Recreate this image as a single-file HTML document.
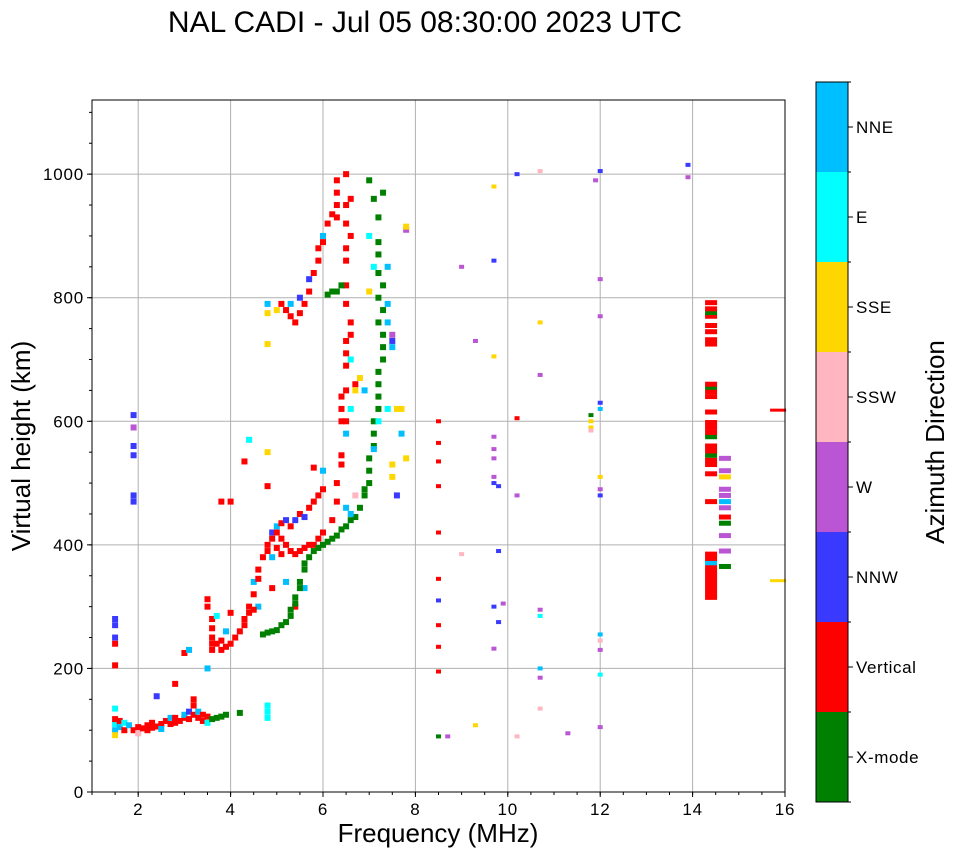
<!DOCTYPE html>
<html><head><meta charset="utf-8"><style>
body{margin:0;background:#fff;}
svg{display:block;font-family:"Liberation Sans","DejaVu Sans",sans-serif;}
</style></head><body>
<svg id="chart" width="958" height="857" viewBox="0 0 958 857" xmlns="http://www.w3.org/2000/svg">
<text x="425" y="32" font-size="30" text-anchor="middle">NAL CADI - Jul 05 08:30:00 2023 UTC</text>
<g id="grid"></g><g id="cells"></g><g id="axes"></g><g id="cbar"></g>
<text x="438" y="842" font-size="26" text-anchor="middle">Frequency (MHz)</text>
<text transform="translate(30,446) rotate(-90)" font-size="26" text-anchor="middle">Virtual height (km)</text>
<text transform="translate(944,442) rotate(-90)" font-size="26" text-anchor="middle">Azimuth Direction</text>
</svg>
<script>
const directions=["X-mode","Vertical","NNW","W","SSW","SSE","E","NNE"];
const dirColors=["#008000","#ff0000","#3a3aff","#ba55d3","#ffb6c1","#ffd700","#00ffff","#00bfff"];
const xTicks=[2,4,6,8,10,12,14,16];
const yTicks=[0,200,400,600,800,1000];
const eLayerCells=[[1.5,100,7],[1.5,110,6],[1.5,118,1],[1.5,135,6],[1.5,92,5],[1.6,105,7],[1.6,115,1],[1.7,100,1],[1.7,112,6],[1.8,108,7],[1.9,100,1],[2.0,105,1],[2.0,95,4],[2.1,103,1],[2.2,108,1],[2.2,100,1],[2.3,112,1],[2.3,104,1],[2.4,106,1],[2.5,110,1],[2.5,102,7],[2.6,115,1],[2.7,110,1],[2.7,120,7],[2.8,112,1],[2.8,120,1],[2.9,115,1],[3.0,120,1],[3.0,125,7],[3.1,118,1],[3.1,130,2],[3.2,125,1],[3.2,140,1],[3.2,150,1],[3.3,130,7],[3.3,120,1],[3.4,115,1],[3.4,125,1],[3.5,122,1],[3.5,112,6],[3.6,118,0],[3.7,120,0],[3.8,122,0],[3.9,125,0],[4.2,128,0],[2.8,175,1],[3.0,225,1],[3.1,230,7],[2.4,155,2],[3.5,200,7],[1.5,205,1],[1.5,240,1],[1.5,250,2],[1.5,270,2],[1.5,280,2],[1.9,470,2],[1.9,480,2],[1.9,545,2],[1.9,560,2],[1.9,590,3],[1.9,610,2],[4.8,120,6],[4.8,130,6],[4.8,140,6]];
const f1Cells=[[3.5,300,1],[3.5,312,1],[3.6,230,1],[3.6,240,1],[3.6,250,1],[3.6,265,1],[3.6,280,1],[3.7,240,1],[3.7,285,6],[3.8,230,1],[3.8,245,1],[3.9,235,1],[3.9,260,7],[4.0,240,1],[4.0,290,1],[4.1,250,1],[4.2,260,1],[4.3,270,1],[4.3,280,1],[4.4,290,1],[4.4,300,1],[4.5,320,1],[4.5,340,7],[4.6,345,1],[4.6,360,1],[4.7,380,1],[4.8,390,1],[4.8,400,1],[4.9,410,1],[4.9,420,2],[5.0,420,1],[5.0,430,7],[5.1,410,1],[5.1,435,1],[5.2,440,2],[5.2,400,1],[5.3,390,1],[5.3,430,1],[5.4,385,1],[5.4,440,2],[5.5,390,1],[5.5,450,1],[5.6,395,1],[5.6,445,2],[5.7,400,1],[5.7,460,1],[5.8,400,1],[5.8,470,1],[5.9,410,1],[5.9,480,1],[6.0,420,1],[6.0,490,1],[4.9,380,7],[5.0,395,1],[5.1,385,1],[4.6,300,7],[4.5,295,1],[4.9,330,1],[5.2,340,7],[5.4,300,1],[5.6,330,7],[4.3,535,1],[4.0,470,1],[3.8,470,1],[4.4,570,6],[4.8,550,5],[4.8,495,1],[5.8,525,1],[6.0,520,7]];
const f2Cells=[[6.2,440,1],[6.3,470,1],[6.3,500,1],[6.4,530,1],[6.4,545,1],[6.4,600,1],[6.4,620,1],[6.4,640,1],[6.5,580,7],[6.5,600,1],[6.5,650,1],[6.5,690,1],[6.5,710,1],[6.5,730,1],[6.6,740,1],[6.6,700,6],[6.6,760,1],[6.5,790,1],[6.5,820,1],[6.5,860,1],[6.5,880,1],[6.6,900,1],[6.5,920,1],[6.5,950,1],[6.6,960,1],[6.5,1000,1],[6.3,990,1],[6.3,970,1],[6.3,950,1],[6.3,930,1],[5.1,790,1],[5.2,780,1],[5.3,770,1],[5.4,760,1],[5.5,775,1],[5.6,790,1],[5.7,810,1],[5.7,830,2],[5.8,840,1],[5.9,860,1],[5.9,880,1],[6.0,900,7],[6.0,890,1],[6.1,920,1],[6.2,935,1],[5.3,790,7],[5.5,800,2],[5.0,780,5],[4.8,775,5],[4.8,790,7],[4.8,725,5],[6.2,810,0],[6.1,805,0],[6.3,810,0],[6.4,820,0]];
const xModeCells=[[4.7,255,0],[4.8,258,0],[4.9,260,0],[5.0,262,0],[5.1,270,0],[5.2,275,0],[5.3,285,0],[5.3,295,0],[5.4,305,0],[5.4,315,0],[5.5,330,0],[5.5,340,0],[5.6,360,0],[5.6,370,0],[5.7,380,0],[5.8,390,0],[5.9,395,0],[6.0,400,0],[6.1,405,0],[6.2,410,0],[6.3,415,0],[6.4,425,0],[6.5,430,0],[6.6,440,0],[6.7,445,0],[6.8,460,0],[6.9,480,0],[6.9,490,0],[7.0,500,0],[7.0,520,0],[7.0,540,0],[7.1,560,0],[7.1,580,0],[7.1,600,0],[7.2,620,0],[7.2,640,0],[7.2,660,0],[7.2,680,0],[7.3,700,0],[7.3,720,0],[7.3,740,0],[7.2,760,0],[7.3,780,0],[7.2,800,0],[7.3,820,0],[7.2,840,0],[7.2,870,0],[7.2,890,0],[7.2,930,0],[7.1,960,0],[7.0,990,0],[7.3,970,0],[6.6,620,6],[6.7,650,5],[6.8,670,5],[6.7,660,1],[6.9,650,7],[6.5,460,7],[6.6,450,7],[6.7,480,4],[7.1,555,7],[7.2,600,6],[7.4,620,6],[7.5,740,3],[7.5,730,2],[7.4,760,7],[7.4,790,7],[7.4,850,7],[7.5,720,7],[7.6,620,5],[7.7,620,5],[7.7,580,7],[7.5,530,5],[7.5,510,5],[7.6,480,2],[7.8,540,5],[7.8,910,3],[7.8,915,5],[7.0,810,5],[7.0,900,6],[7.1,850,6]];
const scatterCells=[[8.5,90,0],[8.7,90,3],[8.5,195,1],[8.5,235,1],[8.5,270,1],[8.5,310,2],[8.5,345,1],[8.5,420,1],[8.5,495,1],[8.5,535,1],[8.5,565,1],[8.5,600,1],[9.0,385,4],[9.0,850,3],[9.3,730,3],[9.3,108,5],[9.7,980,5],[9.7,860,2],[9.7,705,5],[9.7,575,3],[9.7,555,3],[9.7,540,3],[9.7,510,3],[9.7,500,2],[9.7,300,2],[9.7,232,3],[9.8,390,2],[9.8,275,2],[9.8,495,2],[9.9,305,3],[10.2,1000,2],[10.2,605,1],[10.2,480,3],[10.2,90,4],[10.7,1005,4],[10.7,760,5],[10.7,675,3],[10.7,295,3],[10.7,285,6],[10.7,200,7],[10.7,185,3],[10.7,135,4],[11.3,95,3],[11.8,610,0],[11.8,600,5],[11.8,590,5],[11.8,585,4],[11.9,990,3],[12.0,1005,2],[12.0,830,3],[12.0,770,3],[12.0,630,2],[12.0,620,7],[12.0,510,5],[12.0,480,2],[12.0,490,3],[12.0,255,7],[12.0,245,4],[12.0,230,3],[12.0,190,6],[12.0,105,3],[13.9,1015,2],[13.9,995,3]];
const f14Cells=[[14.4,315,1],[14.4,322,1],[14.4,329,1],[14.4,336,1],[14.4,343,1],[14.4,350,1],[14.4,357,1],[14.4,364,1],[14.4,371,7],[14.4,378,1],[14.4,385,1],[14.4,470,1],[14.4,515,1],[14.4,530,1],[14.4,537,1],[14.4,545,0],[14.4,552,1],[14.4,560,1],[14.4,575,0],[14.4,582,1],[14.4,590,1],[14.4,598,1],[14.4,615,1],[14.4,640,1],[14.4,648,1],[14.4,655,0],[14.4,660,1],[14.4,725,1],[14.4,732,1],[14.4,745,1],[14.4,755,1],[14.4,770,1],[14.4,776,0],[14.4,782,1],[14.4,792,1],[14.7,365,0],[14.7,390,3],[14.7,415,3],[14.7,435,0],[14.7,445,1],[14.7,460,3],[14.7,470,7],[14.7,480,3],[14.7,490,3],[14.7,510,5],[14.7,520,3],[14.7,540,3]];
const lineCells=[[15.85,618,1],[15.85,342,5]];

const svg=document.getElementById('chart');
const NS="http://www.w3.org/2000/svg";
const L=92,R=785,T=100,B=792;
function xs(f){return L+(f-1)*(R-L)/15;}
function ys(h){return B-h*(B-T)/1120;}
function mk(tag,attrs,parent){const e=document.createElementNS(NS,tag);for(const k in attrs)e.setAttribute(k,attrs[k]);parent.appendChild(e);return e;}
const grid=document.getElementById('grid'),axes=document.getElementById('axes'),cells=document.getElementById('cells'),cbar=document.getElementById('cbar');
xTicks.forEach(t=>{
 if(t<16){const g=mk('line',{x1:xs(t),x2:xs(t),y1:T,y2:B,stroke:'#b0b0b0','stroke-width':1},grid);
 
 }
 mk('line',{x1:xs(t),x2:xs(t),y1:B,y2:B+5,stroke:'#000'},axes);
 const lb=mk('text',{x:xs(t),y:B+23,'font-size':17,'letter-spacing':0.8,'text-anchor':'middle'},axes);lb.textContent=t;
 
 
});
for(let m=1;m<=16;m+=0.5){mk('line',{x1:xs(m),x2:xs(m),y1:B,y2:B+3,stroke:'#000'},axes);}
yTicks.forEach(t=>{
 if(t>0){const g=mk('line',{x1:L,x2:R,y1:ys(t),y2:ys(t),stroke:'#b0b0b0','stroke-width':1},grid);
 
 }
 mk('line',{x1:L-5,x2:L,y1:ys(t),y2:ys(t),stroke:'#000'},axes);
 const lb=mk('text',{x:L-8,y:ys(t)+6,'font-size':17,'letter-spacing':0.8,'text-anchor':'end'},axes);lb.textContent=t;
 
 
});
for(let m=0;m<=1100;m+=50){mk('line',{x1:L-3,x2:L,y1:ys(m),y2:ys(m),stroke:'#000'},axes);}
const frame=mk('rect',{x:L,y:T,width:R-L,height:B-T,fill:'none',stroke:'#000','stroke-width':1},axes);


function drawCells(arr,name,w,h){
 arr.forEach(c=>{
  const r=mk('rect',{x:xs(c[0])-w/2,y:ys(c[1])-h/2,width:w,height:h,fill:dirColors[c[2]]},cells);
  
  
 });
}
drawCells(eLayerCells,'e-layer-echo',6,6);
drawCells(f1Cells,'f1-echo',6,6);
drawCells(f2Cells,'f2-echo',6,6);
drawCells(xModeCells,'x-mode-echo',6,6);
drawCells(scatterCells,'scatter-echo',5,4);
drawCells(f14Cells,'f14-echo',12,5);
drawCells(lineCells,'edge-echo',16,3);
// colorbar
const cbX=816,cbW=32,cbT=82,cbB=802,seg=(cbB-cbT)/directions.length;
directions.forEach((d,i)=>{
 const y0=cbB-(i+1)*seg;
 const r=mk('rect',{x:cbX,y:y0,width:cbW,height:seg,fill:dirColors[i]},cbar);
 
 
 mk('line',{x1:cbX+cbW,x2:cbX+cbW+5,y1:y0+seg/2,y2:y0+seg/2,stroke:'#000'},cbar);
 const lb=mk('text',{x:cbX+cbW+8,y:y0+seg/2+6,'font-size':17,'letter-spacing':0.6},cbar);lb.textContent=d;
 
 
});
for(let i=0;i<=directions.length;i++){mk('line',{x1:cbX+cbW,x2:cbX+cbW+3,y1:cbT+i*seg,y2:cbT+i*seg,stroke:'#000'},cbar);}
mk('rect',{x:cbX,y:cbT,width:cbW,height:cbB-cbT,fill:'none',stroke:'#000'},cbar);
</script>
</body></html>
